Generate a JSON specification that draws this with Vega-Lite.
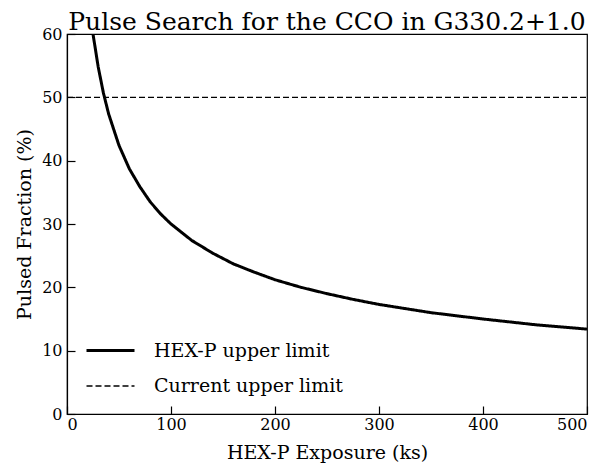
{
  "$schema": "https://vega.github.io/schema/vega-lite/v6.json",
  "autosize": {"type": "none"},
  "padding": {"left": 67, "top": 34, "right": 15, "bottom": 54},
  "width": 520,
  "height": 380,
  "background": "white",
  "title": {
    "text": "Pulse Search for the CCO in G330.2+1.0",
    "font": "DejaVu Serif",
    "fontSize": 25,
    "fontWeight": "normal",
    "color": "black",
    "anchor": "middle",
    "offset": -9
  },
  "config": {
    "view": {"stroke": "black", "strokeWidth": 1.2},
    "font": "DejaVu Serif",
    "axis": {
      "grid": false,
      "domainColor": "black",
      "tickColor": "black",
      "labelColor": "black",
      "titleColor": "black",
      "labelFont": "DejaVu Serif",
      "titleFont": "DejaVu Serif",
      "labelFontSize": 16,
      "titleFontSize": 19,
      "titleFontWeight": "normal",
      "tickSize": -8,
      "tickWidth": 1.2,
      "domainWidth": 1.2
    }
  },
  "data": {
    "values": [
      {"exposure": 25, "pf": 60.0, "series": "HEX-P upper limit"},
      {"exposure": 30, "pf": 54.8, "series": "HEX-P upper limit"},
      {"exposure": 35, "pf": 50.7, "series": "HEX-P upper limit"},
      {"exposure": 40, "pf": 47.4, "series": "HEX-P upper limit"},
      {"exposure": 50, "pf": 42.4, "series": "HEX-P upper limit"},
      {"exposure": 60, "pf": 38.7, "series": "HEX-P upper limit"},
      {"exposure": 70, "pf": 35.9, "series": "HEX-P upper limit"},
      {"exposure": 80, "pf": 33.5, "series": "HEX-P upper limit"},
      {"exposure": 90, "pf": 31.6, "series": "HEX-P upper limit"},
      {"exposure": 100, "pf": 30.0, "series": "HEX-P upper limit"},
      {"exposure": 120, "pf": 27.4, "series": "HEX-P upper limit"},
      {"exposure": 140, "pf": 25.4, "series": "HEX-P upper limit"},
      {"exposure": 160, "pf": 23.7, "series": "HEX-P upper limit"},
      {"exposure": 180, "pf": 22.4, "series": "HEX-P upper limit"},
      {"exposure": 200, "pf": 21.2, "series": "HEX-P upper limit"},
      {"exposure": 225, "pf": 20.0, "series": "HEX-P upper limit"},
      {"exposure": 250, "pf": 19.0, "series": "HEX-P upper limit"},
      {"exposure": 275, "pf": 18.1, "series": "HEX-P upper limit"},
      {"exposure": 300, "pf": 17.3, "series": "HEX-P upper limit"},
      {"exposure": 350, "pf": 16.0, "series": "HEX-P upper limit"},
      {"exposure": 400, "pf": 15.0, "series": "HEX-P upper limit"},
      {"exposure": 450, "pf": 14.1, "series": "HEX-P upper limit"},
      {"exposure": 500, "pf": 13.4, "series": "HEX-P upper limit"},
      {"exposure": 0, "pf": 50, "series": "Current upper limit"},
      {"exposure": 500, "pf": 50, "series": "Current upper limit"}
    ]
  },
  "mark": {"type": "line", "clip": true},
  "encoding": {
    "x": {
      "field": "exposure",
      "type": "quantitative",
      "title": "HEX-P Exposure (ks)",
      "scale": {"domain": [0, 500], "nice": false},
      "axis": {"values": [0, 100, 200, 300, 400, 500], "labelPadding": 10, "titlePadding": 11}
    },
    "y": {
      "field": "pf",
      "type": "quantitative",
      "title": "Pulsed Fraction (%)",
      "scale": {"domain": [0, 60], "nice": false},
      "axis": {"values": [0, 10, 20, 30, 40, 50, 60], "labelPadding": 13, "titlePadding": 7}
    },
    "color": {
      "field": "series",
      "type": "nominal",
      "scale": {"domain": ["HEX-P upper limit", "Current upper limit"], "range": ["black", "black"]},
      "legend": {
        "title": null,
        "orient": "none",
        "legendX": 18,
        "legendY": 291,
        "symbolType": "stroke",
        "symbolSize": 2304,
        "labelFont": "DejaVu Serif",
        "labelFontSize": 19,
        "labelLimit": 400,
        "labelColor": "black",
        "rowPadding": -24,
        "labelOffset": 18
      }
    },
    "strokeDash": {
      "field": "series",
      "type": "nominal",
      "scale": {"domain": ["HEX-P upper limit", "Current upper limit"], "range": [[1, 0], [6, 3]]},
      "legend": null
    },
    "strokeWidth": {
      "field": "series",
      "type": "nominal",
      "scale": {"domain": ["HEX-P upper limit", "Current upper limit"], "range": [3, 1.4]},
      "legend": null
    }
  }
}
